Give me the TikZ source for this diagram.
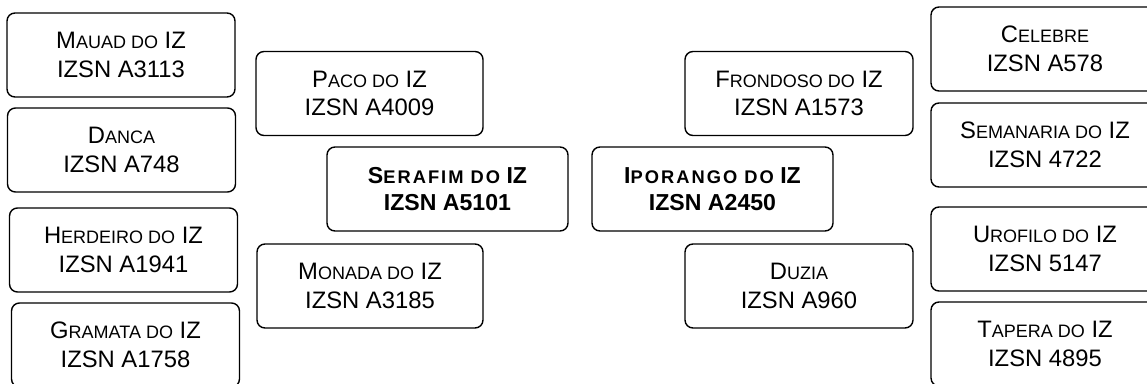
\documentclass[tikz,border=0pt]{standalone}
\usepackage{fontspec}
\setmainfont{Liberation Sans}
\newcommand\smc[1]{{\fontsize{18pt}{28.5pt}\selectfont #1}}
\newcommand\bsmc[1]{{\fontsize{18.3pt}{27pt}\selectfont\addfontfeatures{LetterSpace=11}#1}}
\tikzset{
  box/.style={draw=black, line width=1.4pt, rounded corners=8pt, align=center,
    inner sep=0pt, minimum width=228pt, minimum height=84pt,
    font=\fontsize{23.8pt}{28.5pt}\selectfont},
  main/.style={box, minimum width=241pt, font=\fontsize{23.1pt}{27pt}\selectfont\bfseries}
}
\begin{document}
\begin{tikzpicture}[x=1pt,y=-1pt]
\useasboundingbox (0,0) rectangle (1147,383);
\clip (0,0) rectangle (1147,383);
% left column
\node[box] (mauad) at (121,55) {M\smc{AUAD DO} IZ\\IZSN A3113};
\node[box] (danca) at (121.5,150) {D\smc{ANCA}\\IZSN A748};
\node[box] (herdeiro) at (123.5,250) {H\smc{ERDEIRO DO} IZ\\IZSN A1941};
\node[box] (gramata) at (125.5,345) {G\smc{RAMATA DO} IZ\\IZSN A1758};
% middle left
\node[box, minimum width=227pt] (paco) at (369.5,93.5) {P\smc{ACO DO} IZ\\IZSN A4009};
\node[main] (serafim) at (447.5,189) {S\bsmc{ERAFIM DO} IZ\\IZSN A5101};
\node[box, minimum width=226pt] (monada) at (370,286) {M\smc{ONADA DO} IZ\\IZSN A3185};
% middle right
\node[box] (frondoso) at (799,93.5) {F\smc{RONDOSO DO} IZ\\IZSN A1573};
\node[main] (iporango) at (712.5,189) {I\bsmc{PORANGO DO} IZ\\IZSN A2450};
\node[box] (duzia) at (799,286) {D\smc{UZIA}\\IZSN A960};
% right column
\node[box] (celebre) at (1045,49) {C\smc{ELEBRE}\\IZSN A578};
\node[box] (semanaria) at (1045,145) {S\smc{EMANARIA DO} IZ\\IZSN 4722};
\node[box] (urofilo) at (1045,249) {U\smc{ROFILO DO} IZ\\IZSN 5147};
\node[box] (tapera) at (1045,344) {T\smc{APERA DO} IZ\\IZSN 4895};
\end{tikzpicture}
\end{document}
